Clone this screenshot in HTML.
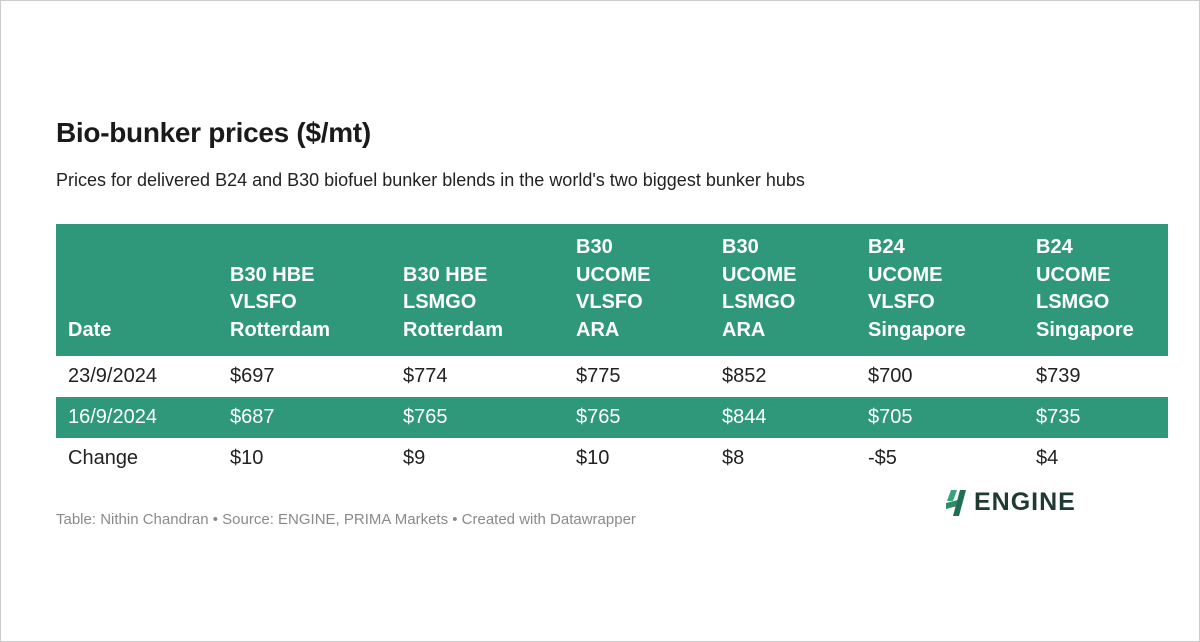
<!DOCTYPE html>
<html><head><meta charset="utf-8"><style>
body{margin:0;width:1200px;height:642px;background:#fff;font-family:"Liberation Sans",sans-serif;position:relative;overflow:hidden}
.frame{position:absolute;left:0;top:0;width:1198px;height:640px;border:1px solid #ccc}
h1{position:absolute;left:56px;top:117px;margin:0;font-size:28px;font-weight:bold;color:#1a1a1a;letter-spacing:-0.3px}
.sub{position:absolute;left:56px;top:170px;font-size:18px;color:#222}
table{position:absolute;left:56px;top:224px;width:1112px;border-collapse:collapse;font-size:20px;color:#222}
th{background:#30987a;color:#fff;text-align:left;vertical-align:bottom;font-weight:bold;line-height:27.5px;padding:0 12px 12px 12px;height:120px}
td{padding:0 12px;height:41px}
tr.g td{background:#30987a;color:#fff}
.foot{position:absolute;left:56px;top:511px;font-size:15px;color:#8a8a8a}
.logo{position:absolute;left:946px;top:488px;display:flex;align-items:center;gap:6px}
.logo span{font-size:25px;font-weight:bold;color:#1f3a32;letter-spacing:1px}
</style></head><body>
<div class="frame"></div>
<h1>Bio-bunker prices ($/mt)</h1>
<div class="sub">Prices for delivered B24 and B30 biofuel bunker blends in the world's two biggest bunker hubs</div>
<table>
<colgroup><col style="width:162px"><col style="width:173px"><col style="width:173px"><col style="width:146px"><col style="width:146px"><col style="width:168px"><col></colgroup>
<tr><th>Date</th><th>B30 HBE<br>VLSFO<br>Rotterdam</th><th>B30 HBE<br>LSMGO<br>Rotterdam</th><th>B30<br>UCOME<br>VLSFO<br>ARA</th><th>B30<br>UCOME<br>LSMGO<br>ARA</th><th>B24<br>UCOME<br>VLSFO<br>Singapore</th><th>B24<br>UCOME<br>LSMGO<br>Singapore</th></tr>
<tr><td>23/9/2024</td><td>$697</td><td>$774</td><td>$775</td><td>$852</td><td>$700</td><td>$739</td></tr>
<tr class="g"><td>16/9/2024</td><td>$687</td><td>$765</td><td>$765</td><td>$844</td><td>$705</td><td>$735</td></tr>
<tr><td>Change</td><td>$10</td><td>$9</td><td>$10</td><td>$8</td><td>-$5</td><td>$4</td></tr>
</table>
<div class="foot">Table: Nithin Chandran • Source: ENGINE, PRIMA Markets • Created with Datawrapper</div>
<div class="logo">
<svg width="22" height="26" viewBox="0 0 22 26"><polygon points="5,0 11,0 7,11 1,11" fill="#3aa37a"/><polygon points="0,13 16,9 15,15 0,19" fill="#2f8a68"/><polygon points="14,0 20,0 13,26 7,26" fill="#1f6e55"/></svg>
<span>ENGINE</span></div>
</body></html>
